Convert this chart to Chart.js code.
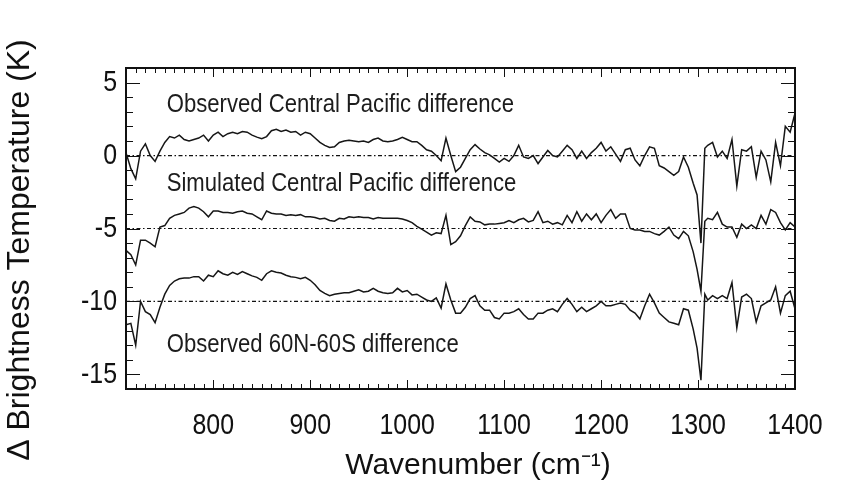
<!DOCTYPE html>
<html><head><meta charset="utf-8">
<script src="https://cdn.jsdelivr.net/npm/chart.js@4"></script>
<style>html,body{margin:0;padding:0;background:#fff}</style>
</head><body>
<canvas id="c" width="844" height="485"></canvas>
<script>
// ---- data ----
const wavenumbers = [
  710,715,720,725,730,735,740,745,750,755,
  760,765,770,775,780,785,790,795,800,805,
  810,815,820,825,830,835,840,845,850,855,
  860,865,870,875,880,885,890,895,900,905,
  910,915,920,925,930,935,940,945,950,955,
  960,965,970,975,980,985,990,995,1000,1005,
  1010,1015,1020,1025,1030,1035,1040,1045,1050,1055,
  1060,1065,1070,1075,1080,1085,1090,1095,1100,1105,
  1110,1115,1120,1125,1130,1135,1140,1145,1150,1155,
  1160,1165,1170,1175,1180,1185,1190,1195,1200,1205,
  1210,1215,1220,1225,1230,1235,1240,1245,1250,1255,
  1260,1265,1270,1275,1280,1285,1290,1295,1299,1303,
  1307,1310,1315,1320,1325,1330,1335,1340,1345,1350,
  1355,1360,1365,1370,1375,1380,1385,1390,1395,1400
];
const observedCentralPacific = [
  0.2,-0.9,-1.6,0.3,0.8,0.0,-0.4,0.3,0.9,1.3,
  1.2,1.4,1.1,1.0,1.1,1.2,1.4,1.0,1.4,1.6,
  1.3,1.5,1.6,1.5,1.65,1.6,1.4,1.26,1.15,1.3,
  1.7,1.8,1.65,1.75,1.6,1.65,1.4,1.6,1.5,1.2,
  0.9,0.7,0.55,0.6,0.9,1.0,1.05,1.0,0.95,1.0,
  0.9,1.1,1.2,1.0,0.95,1.0,1.1,1.25,1.1,0.95,
  0.95,0.7,0.4,0.3,0.0,-0.35,1.2,0.0,-1.1,-0.8,
  -0.2,0.4,0.75,0.45,0.2,0.05,-0.2,-0.45,-0.2,-0.4,
  0.0,0.7,-0.1,-0.2,0.0,-0.55,-0.1,0.35,0.0,-0.1,
  0.3,0.7,0.4,-0.2,0.3,-0.2,0.2,0.5,0.9,0.3,
  0.6,0.1,-0.4,0.4,0.5,-0.3,-0.7,0.0,0.6,0.5,
  -0.7,-0.85,-1.1,-1.35,-1.1,-0.1,-0.8,-1.9,-2.7,-6.0,
  0.5,0.7,0.9,-0.1,0.3,-0.2,1.1,-2.1,0.4,0.3,
  0.6,-1.5,0.3,-0.3,-1.8,0.9,-0.7,2.0,1.6,2.9
];
const simulatedCentralPacific = [
  -6.5,-6.8,-7.5,-5.8,-5.8,-6.0,-6.25,-4.9,-4.8,-4.3,
  -4.1,-4.0,-3.9,-3.6,-3.5,-3.6,-3.85,-4.2,-3.8,-3.8,
  -3.9,-3.9,-3.95,-3.85,-3.8,-3.95,-4.0,-4.2,-4.4,-3.8,
  -3.95,-4.0,-4.0,-4.1,-4.05,-4.1,-4.05,-4.2,-4.2,-4.25,
  -4.35,-4.3,-4.45,-4.5,-4.3,-4.35,-4.2,-4.25,-4.2,-4.25,
  -4.25,-4.35,-4.25,-4.3,-4.3,-4.3,-4.3,-4.35,-4.45,-4.6,
  -4.85,-5.05,-5.25,-5.45,-5.3,-5.35,-4.1,-6.1,-5.9,-5.5,
  -4.8,-4.2,-4.5,-4.55,-4.75,-4.7,-4.7,-4.65,-4.6,-4.45,
  -4.6,-4.4,-4.3,-4.55,-4.45,-3.85,-4.6,-4.5,-4.7,-4.6,
  -4.75,-4.1,-4.6,-3.85,-4.5,-4.0,-4.4,-4.0,-4.6,-4.1,
  -3.7,-4.3,-4.0,-4.0,-5.0,-5.1,-5.1,-5.2,-5.2,-5.35,
  -5.45,-5.2,-4.9,-5.45,-5.7,-5.2,-5.5,-6.6,-7.8,-9.3,
  -4.5,-4.3,-4.4,-3.9,-4.7,-4.9,-4.9,-5.6,-4.7,-5.0,
  -4.75,-5.0,-4.1,-4.7,-3.7,-3.9,-4.6,-5.1,-4.6,-4.9
];
const observed60N60S = [
  -11.6,-11.5,-13.0,-10.0,-10.7,-10.9,-11.45,-10.4,-9.5,-8.9,
  -8.6,-8.45,-8.4,-8.4,-8.3,-8.3,-8.6,-8.2,-8.3,-7.9,
  -8.1,-8.2,-8.0,-8.15,-7.95,-8.1,-8.25,-8.35,-8.55,-8.1,
  -7.9,-8.0,-8.05,-8.2,-8.3,-8.35,-8.45,-8.35,-8.55,-8.85,
  -9.25,-9.45,-9.6,-9.5,-9.45,-9.4,-9.4,-9.3,-9.2,-9.35,
  -9.3,-9.1,-9.3,-9.4,-9.45,-9.4,-9.1,-9.35,-9.25,-9.55,
  -9.5,-9.7,-9.9,-10.0,-9.75,-10.45,-8.8,-9.9,-10.8,-10.8,
  -10.4,-9.8,-9.6,-10.3,-10.6,-10.6,-11.1,-11.2,-10.8,-10.8,
  -10.7,-10.5,-10.9,-11.2,-11.2,-10.8,-10.8,-10.6,-10.5,-10.7,
  -10.2,-9.8,-10.2,-10.7,-10.4,-10.7,-10.5,-10.3,-10.0,-10.3,
  -10.3,-10.2,-10.1,-10.2,-10.6,-10.8,-11.2,-10.3,-9.5,-10.1,
  -10.8,-11.1,-11.4,-11.5,-11.6,-10.5,-10.6,-11.9,-13.2,-15.4,
  -9.5,-9.9,-9.6,-9.8,-9.6,-9.8,-8.7,-11.8,-9.7,-9.5,
  -9.8,-11.4,-10.3,-10.1,-9.9,-9.0,-10.8,-9.6,-9.3,-10.5
];
const referenceLevels = [0, -5, -10];
const xTickValues = [800, 900, 1000, 1100, 1200, 1300, 1400];
const yTickValues = [5, 0, -5, -10, -15];
const seriesLabels = [
  'Observed Central Pacific difference',
  'Simulated Central Pacific difference',
  'Observed 60N-60S difference'
];
const xAxisTitle = 'Wavenumber (cm⁻¹)';
const yAxisTitle = 'Δ Brightness Temperature (K)';

// ---- layout / style settings ----
const labelAnchors = [[752, 3.0], [752, -2.41], [752, -13.45]];
const INK = '#111111';
const FONT = '"Liberation Sans", Arial, Helvetica, sans-serif';
Chart.defaults.font.family = FONT;
Chart.defaults.color = INK;

const toPoints = vals => wavenumbers.map((w, i) => ({ x: w, y: vals[i] }));
const lineStyle = { borderColor: '#161616', borderWidth: 1.5, pointRadius: 0, tension: 0, fill: false };

const datasets = [
  Object.assign({ label: seriesLabels[0], data: toPoints(observedCentralPacific) }, lineStyle),
  Object.assign({ label: seriesLabels[1], data: toPoints(simulatedCentralPacific) }, lineStyle),
  Object.assign({ label: seriesLabels[2], data: toPoints(observed60N60S) }, lineStyle)
];
referenceLevels.forEach(level => datasets.push({
  label: 'ref ' + level,
  data: [{ x: 710, y: level }, { x: 1400, y: level }],
  borderColor: INK, borderWidth: 1.2, borderDash: [4, 2.5, 1.5, 2.5],
  pointRadius: 0, fill: false
}));

// condensed text helper (reference lettering is narrow)
function narrowText(ctx, text, x, y, sx, align) {
  ctx.save();
  ctx.translate(x, y);
  ctx.scale(sx, 1);
  ctx.textAlign = align;
  ctx.fillText(text, 0, 0);
  ctx.restore();
}

const frameTicks = {
  id: 'frameTicks',
  afterDatasetsDraw(chart) {
    const { ctx, chartArea: a, scales: { x, y } } = chart;
    ctx.save();
    ctx.strokeStyle = INK;
    ctx.lineWidth = 1;
    ctx.beginPath();
    for (let v = x.min; v <= x.max; v += 10) {
      const px = Math.round(x.getPixelForValue(v)) + 0.5;
      const L = (v % 100 === 0) ? 9 : 5;
      ctx.moveTo(px, a.bottom); ctx.lineTo(px, a.bottom - L);
      ctx.moveTo(px, a.top); ctx.lineTo(px, a.top + L);
    }
    for (let v = y.min; v <= y.max; v += 1) {
      const py = Math.round(y.getPixelForValue(v)) + 0.5;
      const L = (v % 5 === 0) ? 14 : 7;
      ctx.moveTo(a.left, py); ctx.lineTo(a.left + L, py);
      ctx.moveTo(a.right, py); ctx.lineTo(a.right - L, py);
    }
    ctx.stroke();
    ctx.lineWidth = 2;
    ctx.strokeRect(a.left, a.top, a.right - a.left, a.bottom - a.top);
    ctx.restore();
  }
};

const textLayer = {
  id: 'textLayer',
  afterDraw(chart) {
    const { ctx, chartArea: a, scales: { x, y } } = chart;
    ctx.save();
    ctx.fillStyle = INK;
    ctx.textBaseline = 'middle';
    ctx.font = '30px ' + FONT;
    // tick labels taken from the library's scales
    x.ticks.forEach(t => narrowText(ctx, String(t.value), x.getPixelForValue(t.value), a.bottom + 36.5, 0.83, 'center'));
    y.ticks.forEach(t => narrowText(ctx, String(t.value), a.left - 9, y.getPixelForValue(t.value) + 0.5, 0.83, 'right'));
    // series annotations
    ctx.fillStyle = '#1c1c1c';
    ctx.textBaseline = 'alphabetic';
    ctx.font = '26px ' + FONT;
    seriesLabels.forEach((t, i) => {
      narrowText(ctx, t, x.getPixelForValue(labelAnchors[i][0]), y.getPixelForValue(labelAnchors[i][1]), 0.85, 'left');
    });
    // axis titles
    ctx.fillStyle = INK;
    ctx.textBaseline = 'middle';
    ctx.textAlign = 'center';
    ctx.font = '30px ' + FONT;
    ctx.fillText(xAxisTitle, 478, 466);
    ctx.translate(20, 250);
    ctx.rotate(-Math.PI / 2);
    ctx.font = '32px ' + FONT;
    ctx.fillText(yAxisTitle, 0, 0);
    ctx.restore();
  }
};

new Chart(document.getElementById('c'), {
  type: 'line',
  data: { datasets },
  options: {
    responsive: false,
    devicePixelRatio: 1,
    animation: false,
    layout: { padding: { left: 0, right: 49, top: 68, bottom: 0 } },
    plugins: { legend: { display: false }, tooltip: { enabled: false } },
    scales: {
      x: {
        type: 'linear', min: 710, max: 1400,
        afterBuildTicks: s => { s.ticks = xTickValues.map(v => ({ value: v })); },
        afterFit: s => { s.height = 96; },
        grid: { display: false, drawTicks: false },
        border: { display: false },
        ticks: { display: false, autoSkip: false, maxRotation: 0 }
      },
      y: {
        type: 'linear', min: -16, max: 6,
        afterBuildTicks: s => { s.ticks = yTickValues.map(v => ({ value: v })); },
        afterFit: s => { s.width = 126; },
        grid: { display: false, drawTicks: false },
        border: { display: false },
        ticks: { display: false, autoSkip: false }
      }
    }
  },
  plugins: [frameTicks, textLayer]
});
</script>
</body></html>
